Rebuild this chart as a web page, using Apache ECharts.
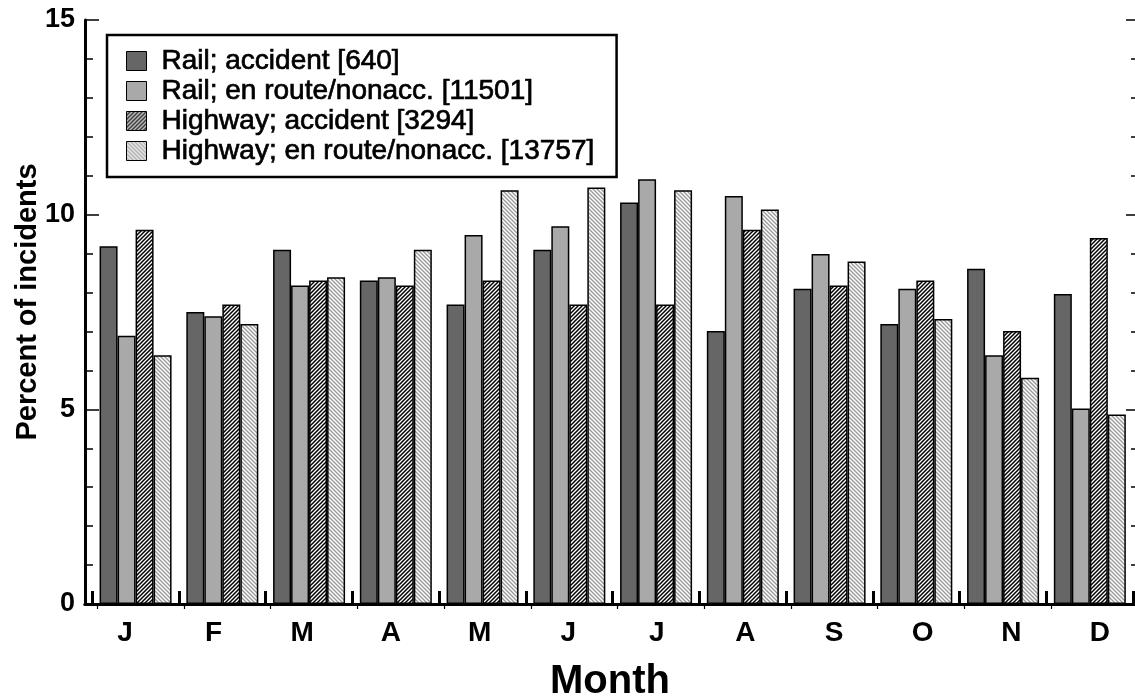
<!DOCTYPE html>
<html>
<head>
<meta charset="utf-8">
<script src="https://cdn.jsdelivr.net/npm/echarts@6/dist/echarts.min.js"></script>
<style>
  html, body { margin: 0; padding: 0; background: #fff; }
  #chart-container { width: 1135px; height: 696px; }
</style>
</head>
<body>
<div id="chart-container"></div>
<script>
var months = ['J', 'F', 'M', 'A', 'M', 'J', 'J', 'A', 'S', 'O', 'N', 'D'];
var seriesNames = [
  'Rail; accident [640]',
  'Rail; en route/nonacc. [11501]',
  'Highway; accident [3294]',
  'Highway; en route/nonacc. [13757]'
];
var railAccident = [9.19, 7.50, 9.10, 8.31, 7.69, 9.10, 10.31, 7.01, 8.10, 7.19, 8.61, 7.96];
var railEnRoute = [6.89, 7.39, 8.18, 8.39, 9.48, 9.70, 10.91, 10.48, 8.99, 8.10, 6.39, 5.02];
var highwayAccident = [9.61, 7.69, 8.31, 8.18, 8.31, 7.69, 7.69, 9.61, 8.18, 8.31, 7.01, 9.40];
var highwayEnRoute = [6.39, 7.19, 8.39, 9.10, 10.63, 10.70, 10.63, 10.13, 8.80, 7.32, 5.81, 4.87];

var FONT = '"Liberation Sans", Arial, Helvetica, sans-serif';

// hatch fill for the highway bars
function hatch(bg, fg, width, dir) {
  var s = 4;
  var c = document.createElement('canvas');
  c.width = s; c.height = s;
  var g = c.getContext('2d');
  g.fillStyle = bg;
  g.fillRect(0, 0, s, s);
  g.strokeStyle = fg;
  g.lineWidth = width;
  g.beginPath();
  if (dir > 0) {
    g.moveTo(0, s); g.lineTo(s, 0);
    g.moveTo(-1, 1); g.lineTo(1, -1);
    g.moveTo(s - 1, s + 1); g.lineTo(s + 1, s - 1);
  } else {
    g.moveTo(0, 0); g.lineTo(s, s);
    g.moveTo(-1, s - 1); g.lineTo(1, s + 1);
    g.moveTo(s - 1, -1); g.lineTo(s + 1, 1);
  }
  g.stroke();
  return { image: c, repeat: 'repeat' };
}

var fills = [
  '#666666',
  '#a9a9a9',
  hatch('#ffffff', '#000000', 1.5, 1),
  hatch('#ffffff', '#9a9a9a', 1.4, -1)
];
var values = [railAccident, railEnRoute, highwayAccident, highwayEnRoute];

var dom = document.getElementById('chart-container');
var myChart = echarts.init(dom, null, { renderer: 'canvas' });

function tickAxis(pos, interval, len, extra) {
  var ax = {
    gridIndex: 0, type: 'value', min: 0, max: 15, interval: interval, position: pos,
    axisLine: { show: false },
    axisTick: { show: true, inside: true, length: len, lineStyle: { color: '#000', width: 1.5 } },
    axisLabel: { show: false },
    splitLine: { show: false }
  };
  return Object.assign(ax, extra || {});
}

function box(left, width) {
  return { left: left, top: 20, width: width, bottom: 92, outerBoundsMode: 'none', containLabel: false };
}

var option = {
  animation: false,
  backgroundColor: '#fff',
  textStyle: { fontFamily: FONT },
  grid: [
    box(85, 1050),       // frame
    box(92.2, 1041),     // bars
    box(80.7, 1063.6),   // month labels
    box(97.3, 1040.6)    // top ticks
  ],
  legend: {
    data: seriesNames,
    orient: 'vertical',
    left: 107,
    top: 35,
    padding: [11, 22, 11, 19],
    itemGap: 0,
    itemWidth: 20,
    itemHeight: 19,
    icon: 'rect',
    borderColor: '#000',
    borderWidth: 2.5,
    backgroundColor: '#fff',
    itemStyle: { borderColor: '#000', borderWidth: 1 },
    textStyle: {
      fontFamily: FONT,
      fontSize: 28,
      lineHeight: 30,
      color: '#000',
      textBorderColor: '#000',
      textBorderWidth: 0.7,
      padding: [0, 0, 0, 10]
    }
  },
  xAxis: [
    {
      gridIndex: 0, type: 'value', min: 0, max: 1, position: 'bottom',
      name: 'Month', nameLocation: 'middle', nameGap: 58, nameMoveOverlap: false,
      nameTextStyle: { fontFamily: FONT, fontSize: 40, fontWeight: 'bold', color: '#000' },
      axisLine: { show: true, lineStyle: { color: '#000', width: 3 } },
      axisTick: { show: false }, axisLabel: { show: false }, splitLine: { show: false }
    },
    {
      gridIndex: 0, type: 'value', min: 0, max: 1, position: 'top',
      axisLine: { show: true, lineStyle: { color: '#000', width: 3 } },
      axisTick: { show: false }, axisLabel: { show: false }, splitLine: { show: false }
    },
    {
      gridIndex: 1, type: 'category', data: months, position: 'bottom',
      axisLine: { show: false },
      axisTick: { show: true, inside: true, length: 13, lineStyle: { color: '#000', width: 3 } },
      axisLabel: { show: false }, splitLine: { show: false }
    },
    {
      gridIndex: 2, type: 'category', data: months, position: 'bottom',
      axisLine: { show: false }, axisTick: { show: false },
      axisLabel: { show: true, margin: 15, fontFamily: FONT, fontSize: 28, fontWeight: 'bold', color: '#000' },
      splitLine: { show: false }
    },
    {
      gridIndex: 3, type: 'category', data: months, position: 'top',
      axisLine: { show: false },
      axisTick: { show: true, inside: true, length: 5, lineStyle: { color: '#000', width: 1.2 } },
      axisLabel: { show: false }, splitLine: { show: false }
    }
  ],
  yAxis: [
    tickAxis('left', 1, 8, {
      name: 'Percent of incidents', nameLocation: 'middle', nameGap: 43, nameMoveOverlap: false,
      nameTextStyle: { fontFamily: FONT, fontSize: 29, fontWeight: 'bold', color: '#000', padding: [0, 0, 0, 20] },
      axisLine: { show: true, lineStyle: { color: '#000', width: 3 } },
      axisLabel: {
        show: true, margin: 10, fontFamily: FONT, fontSize: 27, fontWeight: 'bold', color: '#000',
        formatter: function (v) { return v % 5 === 0 ? String(v) : ''; }
      }
    }),
    tickAxis('left', 5, 14),
    tickAxis('right', 1, 4),
    tickAxis('right', 5, 9),
    { gridIndex: 1, type: 'value', min: 0, max: 15, show: false },
    { gridIndex: 2, type: 'value', min: 0, max: 15, show: false },
    { gridIndex: 3, type: 'value', min: 0, max: 15, show: false }
  ],
  series: seriesNames.map(function (name, i) {
    return {
      name: name,
      type: 'bar',
      xAxisIndex: 2,
      yAxisIndex: 4,
      data: values[i],
      barWidth: 18,
      barGap: '0%',
      itemStyle: { color: fills[i], borderColor: '#000', borderWidth: 1.5 },
      emphasis: { disabled: true }
    };
  })
};

myChart.setOption(option);
window.addEventListener('resize', myChart.resize);
</script>
</body>
</html>
